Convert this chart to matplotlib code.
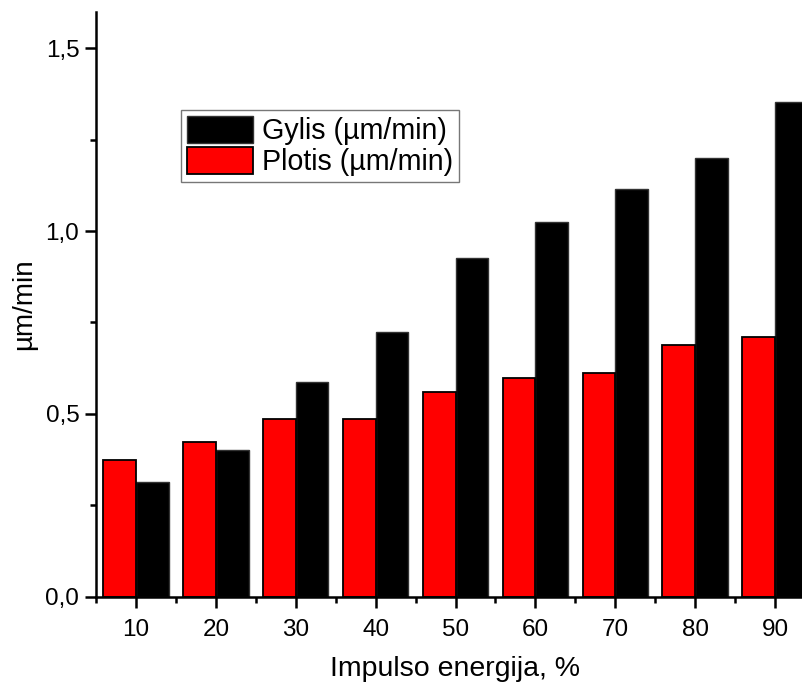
import matplotlib.pyplot as plt
import numpy as np
from matplotlib.ticker import MultipleLocator, FixedLocator

plt.rcParams['font.family'] = ['Liberation Sans', 'DejaVu Sans']

# duomenys
energija = [10, 20, 30, 40, 50, 60, 70, 80, 90]
gylis = [0.315, 0.401, 0.587, 0.724, 0.927, 1.026, 1.115, 1.201, 1.352]
plotis = [0.374, 0.424, 0.486, 0.486, 0.560, 0.598, 0.613, 0.689, 0.711]

x = np.array(energija)
w = 4.1

fig = plt.figure(figsize=(8.02, 6.84), dpi=100)
ax = fig.add_axes([96/802, (684-596.7)/684, 719/802, 585/684])

ax.bar(x + w/2, gylis, w, color='black', edgecolor='#333333', linewidth=1, label='Gylis (µm/min)')
ax.bar(x - w/2, plotis, w, color='#ff0000', edgecolor='black', linewidth=1.3, label='Plotis (µm/min)')

ax.set_xlim(5, 95)
ax.set_ylim(0, 1.6)

ax.set_xticks(energija)
ax.xaxis.set_minor_locator(FixedLocator([5, 15, 25, 35, 45, 55, 65, 75, 85]))
ax.set_yticks([0, 0.5, 1.0, 1.5])
ax.set_yticklabels(['0,0', '0,5', '1,0', '1,5'])
ax.yaxis.set_minor_locator(MultipleLocator(0.25))

ax.tick_params(which='major', direction='out', length=8, width=1.8, labelsize=17.5, pad=4)
ax.tick_params(axis='x', which='major', pad=8)
ax.tick_params(which='minor', direction='out', length=4, width=1.8)
ax.spines['top'].set_visible(False)
ax.spines['right'].set_visible(False)
ax.spines['left'].set_linewidth(1.8)
ax.spines['bottom'].set_linewidth(1.8)

ax.set_xlabel('Impulso energija, %', fontsize=20.5, labelpad=11)
ax.set_ylabel('µm/min', fontsize=20, labelpad=6)

leg = ax.legend(loc='upper left', bbox_to_anchor=((181-96)/719, (596.7-110)/585),
                fontsize=20.6, frameon=True, fancybox=False, edgecolor='#555555',
                handlelength=2.3, handleheight=1.1, borderpad=0.2, labelspacing=0.05,
                handletextpad=0.32, borderaxespad=0)
leg.get_frame().set_linewidth(1)

plt.savefig('out.png', dpi=100)
